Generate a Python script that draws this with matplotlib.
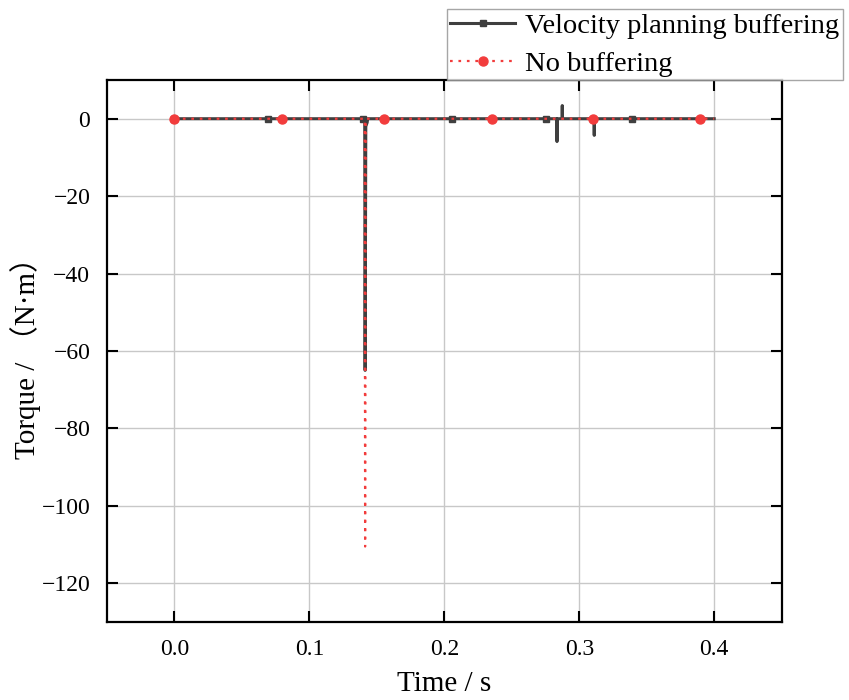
import matplotlib
matplotlib.use("Agg")
import matplotlib.pyplot as plt
import numpy as np

# Velocity planning buffering (black solid with squares)
t_vp = [0.0, 0.0696, 0.1400, 0.1410, 0.1413, 0.1418, 0.1428, 0.1432, 0.2060, 0.2756,
        0.2833, 0.2835, 0.2837, 0.2872, 0.2874, 0.2876, 0.3109, 0.3111, 0.3113, 0.3390, 0.4000]
y_vp = [0.0, 0.0, 0.0, 0.0, -65.0, -2.0, -1.0, 0.0, 0.0, 0.0,
        0.0, -5.9, 0.0, 0.0, 3.4, 0.0, 0.0, -4.3, 0.0, 0.0, 0.0]
vp_marker_times = [0.0, 0.0696, 0.1400, 0.2060, 0.2756, 0.3390]

# No buffering (red dotted with circles)
t_nb = [0.0, 0.0800, 0.1410, 0.1413, 0.1418, 0.1556, 0.2356, 0.3104, 0.3896, 0.4000]
y_nb = [0.0, 0.0, 0.0, -110.5, 0.0, 0.0, 0.0, 0.0, 0.0, 0.0]
nb_marker_times = [0.0, 0.0800, 0.1556, 0.2356, 0.3104, 0.3896]

x_ticks = [0.0, 0.1, 0.2, 0.3, 0.4]
x_ticklabels = ["0.0", "0.1", "0.2", "0.3", "0.4"]
y_ticks = [0, -20, -40, -60, -80, -100, -120]
y_ticklabels = ["0", "\u221220", "\u221240", "\u221260", "\u221280", "\u2212100", "\u2212120"]

serif = ["Liberation Serif", "Noto Sans CJK SC", "DejaVu Serif"]

fig = plt.figure(figsize=(8.49, 7.0), dpi=100)
ax = fig.add_axes([0.126, 0.1114, 0.7947, 0.7743])

vp_idx = [t_vp.index(t) for t in vp_marker_times]
nb_idx = [t_nb.index(t) for t in nb_marker_times]

ax.plot(t_vp, y_vp, color="#3f3f3f", lw=2.2, marker="s", ms=5,
        markevery=vp_idx, label="Velocity planning buffering", zorder=3)
ax.plot(t_nb, y_nb, color="#f23c3c", lw=1.6, linestyle=(0, (1.2, 2.6)), marker="o", ms=6.5,
        markevery=nb_idx, label="No buffering", zorder=4)

ax.set_xlim(-0.05, 0.45)
ax.set_ylim(-130, 10)
ax.set_xticks(x_ticks)
ax.set_xticklabels(x_ticklabels, fontfamily=serif, fontsize=17)
ax.set_yticks(y_ticks)
ax.set_yticklabels(y_ticklabels, fontfamily=serif, fontsize=17)

ax.grid(True, color="#c8c8c8", lw=1.0)
ax.set_axisbelow(True)
ax.tick_params(direction="in", length=8, width=1.5, top=True, right=True, pad=12)
for s in ax.spines.values():
    s.set_linewidth(1.6)
    s.set_color("black")

ax.set_xlabel("Time / s", fontfamily=serif, fontsize=21, labelpad=8)
ax.set_ylabel("Torque / \uff08N\u00b7m\uff09", fontfamily=serif, fontsize=21, labelpad=0)
ax.yaxis.set_label_coords(-0.098, 0.50)

leg = fig.legend(loc="lower right", bbox_to_anchor=(843 / 849, 1 - 80 / 700),
                 prop={"family": serif, "size": 20.5}, frameon=True, fancybox=False,
                 edgecolor="#909090", handlelength=2.3, handletextpad=0.35,
                 borderpad=0.12, labelspacing=0.42, borderaxespad=0)
leg.get_frame().set_linewidth(1.0)

fig.savefig("out.png", dpi=100)
